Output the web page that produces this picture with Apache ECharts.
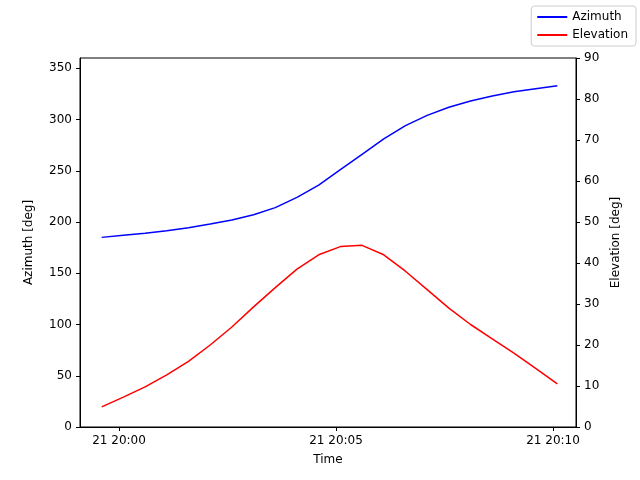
<!DOCTYPE html>
<html><head><meta charset="utf-8">
<script src="https://cdn.jsdelivr.net/npm/echarts@6/dist/echarts.min.js"></script>
<style>html,body{margin:0;padding:0;background:#fff}#c{width:640px;height:480px}</style>
</head><body><div id="c"></div>
<script>
const times = ["19:59:36","20:00:06","20:00:36","20:01:06","20:01:36","20:02:06","20:02:36","20:03:06","20:03:36","20:04:06","20:04:36","20:05:06","20:05:36","20:06:06","20:06:36","20:07:06","20:07:36","20:08:06","20:08:36","20:09:06","20:09:36","20:10:06"];
const azimuth = [185,187,189,191.5,194.5,198,202,207,214,224,236,251,266,281,294,304,312,318,323,327,330,333];
const elevation = [4.9,7.3,9.8,12.7,16,20,24.4,29.3,34,38.5,42,44,44.3,42,38,33.5,29,25,21.5,18,14.3,10.5];
const tickLabels = ["21 20:00","21 20:05","21 20:10"];
const toMin = s => { const [h,m,sec] = s.split(':').map(Number); return (h-20)*60 + m + sec/60; };
const xs = times.map(toMin);
const font = 'DejaVu Sans';
const ch = echarts.init(document.getElementById('c'));
const line = {show:true,onZero:false,lineStyle:{color:'#000'}};
const axisCommon = {
  axisLine:line,
  axisTick:{show:true,length:4,lineStyle:{color:'#000'}},
  axisLabel:{color:'#000',fontFamily:font,fontSize:12},
  splitLine:{show:false},
  nameTextStyle:{color:'#000',fontFamily:font,fontSize:12}
};
ch.setOption({
  animation:false,
  textStyle:{fontFamily:font},
  grid:{left:80,right:64,top:58,bottom:53,show:true,borderColor:'#000',borderWidth:1,backgroundColor:'transparent'},
  legend:{right:4,top:6,orient:'vertical',itemWidth:30,itemHeight:2,itemGap:6,
    padding:[5,8,5,6],borderColor:'#ccc',borderWidth:1,borderRadius:3,
    textStyle:{fontFamily:font,fontSize:12,color:'#000'},icon:'rect',
    data:['Azimuth','Elevation']},
  xAxis:{type:'value',min:-0.9,max:10.53,name:'Time',nameLocation:'middle',nameGap:27,
    ...axisCommon,
    axisTick:{show:true,length:4,lineStyle:{color:'#000'},customValues:[0,5,10]},
    axisLabel:{color:'#000',fontFamily:font,fontSize:12,customValues:[0,5,10],
      formatter:v=>tickLabels[Math.round(v/5)]}},
  yAxis:[
    {type:'value',min:0,max:360,interval:50,name:'Azimuth [deg]',nameLocation:'middle',nameGap:45,...axisCommon,
      axisTick:{show:true,length:4,lineStyle:{color:'#000'},customValues:[0,50,100,150,200,250,300,350]},
      axisLabel:{...axisCommon.axisLabel,customValues:[0,50,100,150,200,250,300,350]}},
    {type:'value',min:0,max:90,interval:10,name:'Elevation [deg]',nameLocation:'middle',nameGap:33,position:'right',...axisCommon}
  ],
  series:[
    {name:'Azimuth',type:'line',yAxisIndex:0,data:xs.map((x,i)=>[x,azimuth[i]]),showSymbol:false,lineStyle:{color:'#0000ff',width:1.5},itemStyle:{color:'#0000ff'}},
    {name:'Elevation',type:'line',yAxisIndex:1,data:xs.map((x,i)=>[x,elevation[i]]),showSymbol:false,lineStyle:{color:'#ff0000',width:1.5},itemStyle:{color:'#ff0000'}}
  ]
});
</script></body></html>
